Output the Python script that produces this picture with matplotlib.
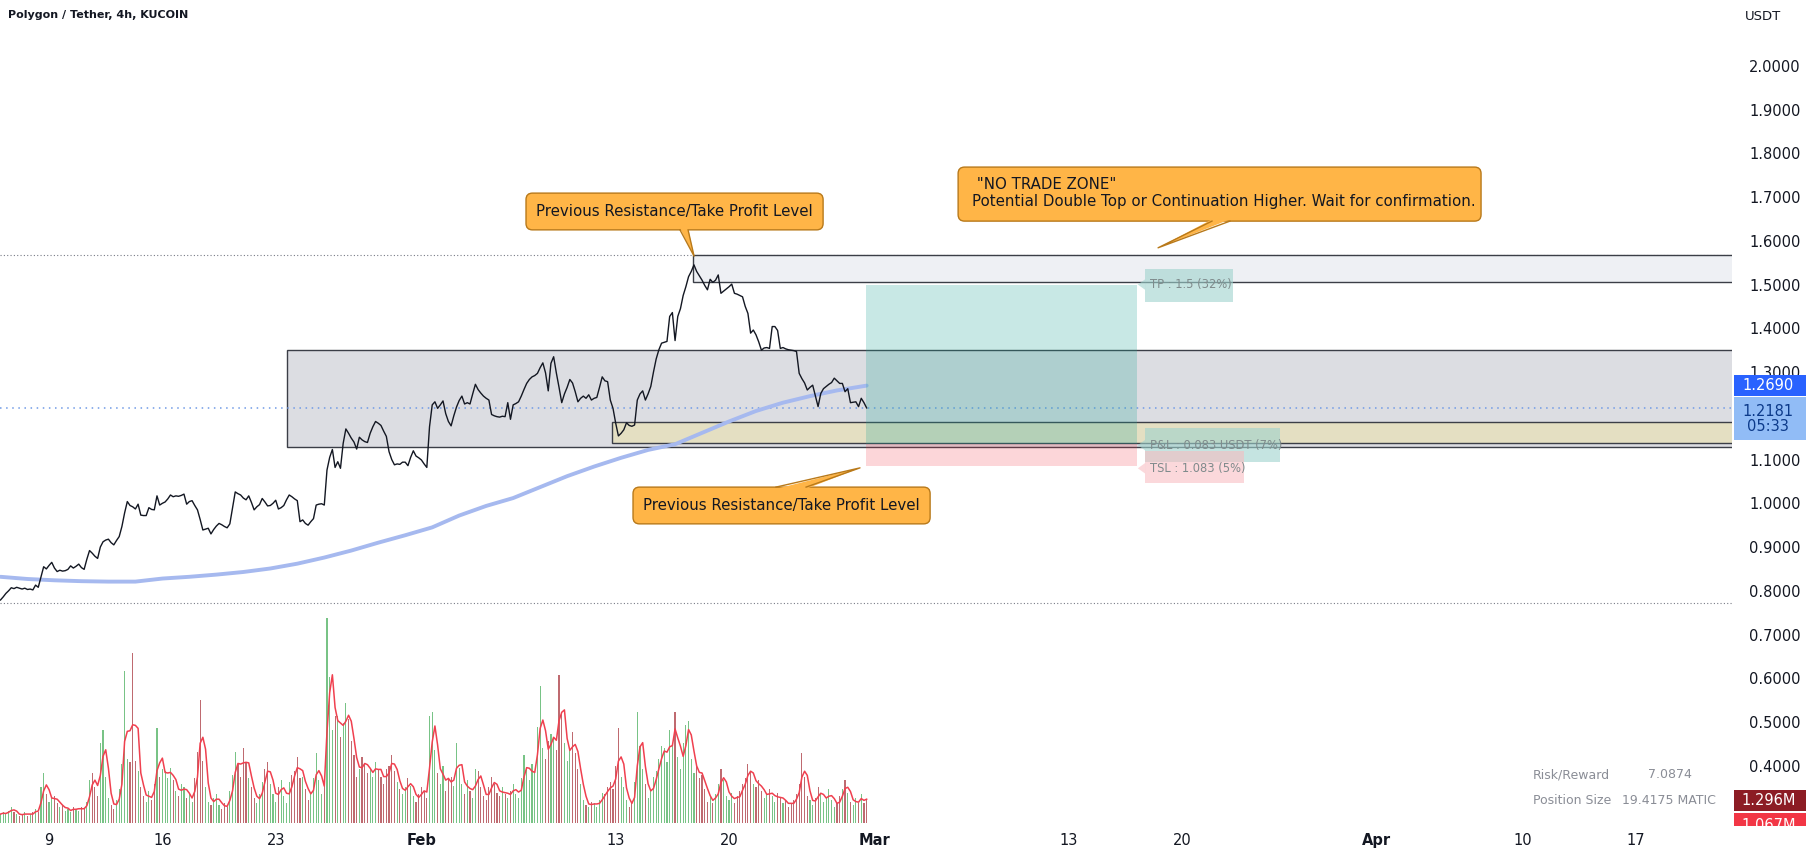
import numpy as np
import pandas as pd
import matplotlib
matplotlib.use("Agg")
import matplotlib.pyplot as plt
import matplotlib.dates as mdates
from matplotlib.patches import Rectangle, FancyBboxPatch, Polygon
from matplotlib.ticker import FuncFormatter

W, H = 1811, 860
plt.rcParams['font.family'] = ['DejaVu Sans']

# MATIC/USDT 4h closes, first bar 2023-01-06 00:00
close = [
    0.779, 0.786, 0.794, 0.800, 0.807, 0.805, 0.808, 0.806, 0.804, 0.806,
    0.803, 0.804, 0.802, 0.813, 0.808, 0.832, 0.855, 0.850, 0.858, 0.865,
    0.852, 0.844, 0.847, 0.845, 0.846, 0.849, 0.857, 0.852, 0.856, 0.861,
    0.853, 0.849, 0.872, 0.892, 0.886, 0.879, 0.874, 0.900, 0.912, 0.916,
    0.918, 0.910, 0.905, 0.915, 0.924, 0.947, 0.978, 1.004, 0.995, 0.992,
    0.987, 0.998, 0.973, 0.972, 0.972, 0.990, 0.986, 0.985, 1.017, 0.996,
    1.000, 1.003, 1.010, 1.019, 1.015, 1.017, 1.016, 1.018, 1.021, 0.998,
    1.004, 1.006, 0.995, 0.985, 0.963, 0.939, 0.941, 0.943, 0.930, 0.940,
    0.948, 0.954, 0.951, 0.947, 0.944, 0.953, 0.990, 1.026, 1.022, 1.019,
    1.012, 1.008, 1.017, 1.002, 0.985, 0.992, 0.997, 1.011, 1.003, 0.994,
    0.995, 1.000, 1.007, 0.987, 0.990, 0.995, 1.008, 1.019, 1.015, 1.010,
    1.006, 0.958, 0.962, 0.954, 0.950, 0.958, 0.965, 0.996, 0.998, 0.999,
    0.996, 1.076, 1.105, 1.123, 1.082, 1.095, 1.080, 1.137, 1.170, 1.160,
    1.149, 1.140, 1.124, 1.151, 1.145, 1.141, 1.139, 1.160, 1.175, 1.187,
    1.183, 1.178, 1.165, 1.153, 1.118, 1.100, 1.088, 1.090, 1.089, 1.094,
    1.094, 1.086, 1.105, 1.120, 1.108, 1.104, 1.099, 1.090, 1.082, 1.175,
    1.225, 1.232, 1.217, 1.225, 1.234, 1.205, 1.187, 1.177, 1.200, 1.220,
    1.235, 1.245, 1.227, 1.230, 1.227, 1.250, 1.272, 1.260, 1.252, 1.245,
    1.240, 1.236, 1.203, 1.200, 1.198, 1.197, 1.199, 1.198, 1.230, 1.192,
    1.225, 1.228, 1.232, 1.245, 1.260, 1.274, 1.283, 1.289, 1.292, 1.297,
    1.310, 1.321, 1.298, 1.257, 1.320, 1.335, 1.298, 1.265, 1.230, 1.250,
    1.265, 1.283, 1.275, 1.255, 1.232, 1.240, 1.245, 1.240, 1.248, 1.236,
    1.240, 1.242, 1.265, 1.289, 1.280, 1.278, 1.236, 1.217, 1.183, 1.154,
    1.160, 1.168, 1.184, 1.178, 1.176, 1.179, 1.236, 1.250, 1.257, 1.236,
    1.250, 1.267, 1.300, 1.330, 1.351, 1.366, 1.368, 1.370, 1.427, 1.436,
    1.372, 1.427, 1.445, 1.475, 1.495, 1.518, 1.530, 1.545, 1.530, 1.520,
    1.510, 1.498, 1.488, 1.512, 1.505, 1.510, 1.522, 1.480, 1.485, 1.490,
    1.495, 1.501, 1.480, 1.478, 1.475, 1.472, 1.450, 1.434, 1.389, 1.396,
    1.385, 1.369, 1.350, 1.355, 1.356, 1.354, 1.404, 1.404, 1.395, 1.354,
    1.356, 1.353, 1.351, 1.350, 1.349, 1.347, 1.297, 1.285, 1.275, 1.259,
    1.265, 1.270, 1.245, 1.221, 1.251, 1.262, 1.267, 1.272, 1.276, 1.286,
    1.280, 1.274, 1.274, 1.255, 1.262, 1.230, 1.231, 1.232, 1.221, 1.240,
    1.230, 1.218,
]

# volume per 4h bar, millions of MATIC
volume = [
    0.5, 0.6, 0.5, 0.7, 0.9, 0.6, 0.5, 0.4, 0.5, 0.6,
    0.4, 0.5, 0.6, 0.8, 0.6, 2.0, 2.8, 1.6, 1.2, 1.4,
    1.5, 1.1, 0.9, 1.0, 0.7, 0.8, 0.6, 0.9, 0.8, 0.7,
    0.9, 0.8, 1.2, 2.4, 2.8, 2.0, 1.5, 4.5, 5.2, 2.6,
    1.4, 1.0, 0.8, 1.3, 1.9, 3.3, 8.5, 3.6, 3.4, 9.5,
    3.5, 2.9, 2.0, 1.5, 1.2, 1.8, 1.3, 2.2, 5.3, 2.6,
    3.0, 2.9, 2.5, 3.1, 2.4, 1.8, 1.5, 2.2, 2.0, 1.4,
    1.6, 1.2, 2.5, 4.0, 6.9, 3.5, 2.0, 1.2, 1.0, 1.4,
    1.6, 1.0, 0.8, 1.1, 0.9, 1.8, 2.7, 4.0, 3.3, 2.6,
    4.2, 3.4, 2.5, 2.0, 1.4, 1.1, 1.6, 2.3, 3.0, 3.4,
    2.2, 1.6, 1.2, 2.0, 2.4, 1.5, 1.1, 2.3, 2.7, 2.9,
    3.7, 2.5, 2.6, 1.9, 1.3, 1.7, 2.5, 3.9, 2.4, 1.6,
    2.2, 11.5, 8.2, 5.2, 6.0, 6.0, 4.8, 5.6, 6.7, 5.8,
    4.6, 3.8, 2.6, 3.0, 3.7, 3.3, 2.8, 3.1, 2.6, 3.4,
    3.0, 2.6, 2.2, 3.0, 3.2, 3.8, 2.9, 2.3, 1.9, 1.6,
    2.0, 2.5, 2.1, 1.5, 1.2, 1.6, 2.0, 1.8, 1.4, 6.0,
    6.2, 4.1, 2.8, 2.2, 3.2, 1.8, 2.5, 2.6, 2.1, 4.5,
    3.1, 2.2, 1.6, 2.4, 1.8, 1.4, 3.0, 2.9, 2.0, 1.5,
    1.3, 2.0, 2.6, 2.2, 1.7, 1.5, 2.0, 1.6, 1.4, 1.8,
    2.2, 1.6, 1.4, 2.5, 3.8, 3.0, 2.4, 3.3, 2.8, 5.4,
    7.7, 4.2, 3.6, 4.6, 5.0, 4.8, 4.1, 8.3, 6.2, 4.5,
    3.5, 4.2, 5.1, 3.9, 3.0, 2.2, 1.3, 1.0, 0.9, 1.2,
    1.1, 0.9, 1.3, 1.7, 1.6, 2.0, 2.3, 1.9, 3.2, 5.3,
    2.6, 2.0, 1.3, 0.9, 1.1, 2.3, 6.2, 4.3, 3.0, 2.2,
    1.4, 1.8, 2.6, 2.9, 3.6, 4.3, 4.2, 3.4, 5.2, 4.4,
    6.2, 3.7, 3.0, 4.5, 5.5, 5.7, 3.6, 2.8, 3.2, 2.5,
    2.7, 1.9, 1.2, 1.5, 1.1, 1.6, 2.2, 3.0, 2.4, 1.5,
    1.3, 1.7, 1.1, 1.5, 1.8, 2.2, 2.5, 3.3, 2.9, 2.2,
    2.0, 2.4, 1.8, 1.4, 1.6, 1.9, 1.5, 1.2, 1.7, 1.4,
    1.1, 1.3, 0.9, 1.1, 1.3, 1.6, 2.2, 3.9, 2.6, 1.5,
    1.3, 1.0, 1.4, 2.0, 1.6, 1.2, 1.4, 1.9, 1.3, 0.9,
    1.1, 1.5, 1.9, 2.4, 1.7, 1.2, 1.0, 1.4, 1.1, 1.6,
    1.1, 1.3,
]

# long moving average, read every 10 bars
ma_bar = [0, 10, 20, 30, 40, 50, 60, 70, 80, 90, 100, 110, 120, 130, 140, 150, 160,
          170, 180, 190, 200, 210, 220, 230, 240, 250, 260, 270, 280, 290, 300, 310, 321]
ma_val = [0.832, 0.827, 0.824, 0.822, 0.821, 0.821, 0.828, 0.832, 0.837, 0.843, 0.851,
          0.862, 0.876, 0.892, 0.910, 0.927, 0.945, 0.972, 0.994, 1.012, 1.037, 1.062,
          1.084, 1.104, 1.122, 1.135, 1.161, 1.187, 1.211, 1.230, 1.245, 1.258, 1.269]

# levels
high_level, low_level, last_price, ma_last = 1.5675, 0.772, 1.2181, 1.2690
entry, take_profit, stop_loss = 1.1365, 1.5, 1.0852
vol_last, vol_ma_last = 1.296, 1.067
price_ticks = [0.4, 0.5, 0.6, 0.7, 0.8, 0.9, 1.0, 1.1, 1.2, 1.3, 1.4, 1.5, 1.6,
               1.7, 1.8, 1.9, 2.0]

x_ticks = ['2023-01-09', '2023-01-16', '2023-01-23', '2023-02-01', '2023-02-13', '2023-02-20',
           '2023-03-01', '2023-03-13', '2023-03-20', '2023-04-01', '2023-04-10', '2023-04-17']
x_labels = ['9', '16', '23', 'Feb', '13', '20', 'Mar', '13', '20', 'Apr', '10', '17']

times = pd.date_range('2023-01-06 00:00', periods=len(close), freq='4h')
tnum = mdates.date2num(times)
t0 = mdates.date2num(pd.Timestamp('2023-01-01'))


def T(day):
    return t0 + day


fig = plt.figure(figsize=(W / 100, H / 100), dpi=100)
ax = fig.add_axes([0, 34 / H, 1732 / W, 826 / H])
vax = ax.twinx()   # volume overlay
ax.set_xlim(T(4.97), T(111.95))
ax.set_ylim(0.2624, 2.1504)
for a in (ax, vax):
    for s in a.spines.values():
        s.set_visible(False)

ax.yaxis.tick_right()
ax.set_yticks(price_ticks)
ax.yaxis.set_major_formatter(FuncFormatter(lambda v, p: f'{v:.4f}'))
ax.tick_params(axis='y', which='both', left=False, right=False, labelleft=False,
               labelright=True, pad=9, labelsize=10.5, labelcolor='#131722')
ax.set_xticks(mdates.date2num(pd.to_datetime(x_ticks)))
ax.set_xticklabels(x_labels)
ax.tick_params(axis='x', length=0, pad=5, labelsize=10.5, labelcolor='#131722')
for lab in ax.get_xticklabels():
    if lab.get_text() in ('Feb', 'Mar', 'Apr'):
        lab.set_fontweight('bold')

# zones
right = T(130)
ax.add_patch(Rectangle((T(22.70), 1.128), right - T(22.70), 1.350 - 1.128,
                       fc='#dcdde2', ec='#3b3e47', lw=1, zorder=1))
ax.add_patch(Rectangle((T(42.77), 1.137), right - T(42.77), 1.185 - 1.137,
                       fc='#e4dfc2', ec='#3b3e47', lw=1, zorder=1.2))
ax.add_patch(Rectangle((T(47.78), 1.505), right - T(47.78), high_level - 1.505,
                       fc='#eef0f4', ec='#3b3e47', lw=1, zorder=1))

# dotted price lines
ax.axhline(high_level, color='#787b86', lw=0.8, ls=(0, (1, 2)), zorder=0.9)
ax.axhline(low_level, color='#787b86', lw=0.8, ls=(0, (1, 2)), zorder=0.9)
ax.axhline(last_price, color='#6f9ae6', lw=1.1, ls=(0, (1, 3)), zorder=1.5)

# moving average and price
ax.plot(tnum[ma_bar], ma_val, color='#a6b9ef', lw=2.8, zorder=2, solid_capstyle='round')
ax.plot(tnum, close, color='#131722', lw=1.0, zorder=3)

# long position tool
lx0, lx1 = T(58.46), T(75.20)
ax.add_patch(Rectangle((lx0, entry), lx1 - lx0, take_profit - entry,
                       fc='#26a69a', alpha=0.25, ec='none', zorder=2.5))
ax.add_patch(Rectangle((lx0, stop_loss), lx1 - lx0, entry - stop_loss,
                       fc='#f23645', alpha=0.2, ec='none', zorder=2.5))


def pos_label(x0, x1, y0, y1, yc, text, fc, alpha):
    ax.add_patch(Rectangle((T(x0), y0), T(x1) - T(x0), y1 - y0, fc=fc, alpha=alpha,
                           ec='none', zorder=5))
    ax.add_patch(Polygon([(T(x0), yc + 0.012), (T(x0 - 0.45), yc), (T(x0), yc - 0.012)],
                         closed=True, fc=fc, alpha=alpha, ec='none', zorder=5))
    ax.text(T(x0 + 0.3), yc, text, fontsize=8.3, color='#7f8b8c', va='center', ha='left', zorder=6)


pos_label(75.70, 81.13, 1.4598, 1.5353, take_profit, 'TP : 1.5 (32%)', '#9fd3cd', 0.6)
pos_label(75.70, 84.04, 1.0942, 1.1719, 1.133, 'P&L : 0.083 USDT (7%)', '#9fd3cd', 0.6)
pos_label(75.70, 81.81, 1.0462, 1.1193, 1.080, 'TSL : 1.083 (5%)', '#f9b9be', 0.55)

# callouts
asp = (1 / 437.5) / (1 / 16.19)
c_fc, c_ec = '#ffb547', '#b8791a'


def callout(x0, x1, y0, y1, base, tip):
    ax.add_patch(FancyBboxPatch((T(x0), y0), T(x1) - T(x0), y1 - y0,
                                boxstyle='round,pad=0,rounding_size=0.4', mutation_aspect=asp,
                                fc=c_fc, ec=c_ec, lw=1, zorder=7))
    bx0, bx1, by = base
    inner = by + (0.004 if tip[1] < by else -0.004)
    ax.add_patch(Polygon([(T(bx0), inner), (T(tip[0]), tip[1]), (T(bx1), inner)],
                         closed=True, fc=c_fc, ec='none', zorder=7.5))
    ax.plot([T(bx0), T(tip[0]), T(bx1)], [by, tip[1], by], color=c_ec, lw=1, zorder=7.6)


ctext = dict(fontsize=10.8, color='#131722', va='center', zorder=8)
callout(37.46, 55.81, 1.625, 1.709, (46.97, 47.47, 1.625), (47.84, 1.565))
ax.text(T(46.63), 1.667, 'Previous Resistance/Take Profit Level', ha='center', **ctext)
callout(64.15, 96.45, 1.645, 1.7685, (79.83, 80.94, 1.645), (76.50, 1.584))
ax.text(T(65.0), 1.709, ' "NO TRADE ZONE"\nPotential Double Top or Continuation Higher. Wait for confirmation.',
        ha='left', linespacing=1.2, **ctext)
callout(44.07, 62.42, 0.953, 1.037, (52.90, 54.76, 1.037), (58.09, 1.081))
ax.text(T(53.25), 0.995, 'Previous Resistance/Take Profit Level', ha='center', **ctext)

# volume overlay
vax.set_ylim(-3 * 0.056, 823 * 0.056)
vax.set_yticks([])
up = np.r_[True, np.diff(close) >= 0]
vcol = np.where(up, '#78c386', '#bf6a70')
vax.bar(tnum, volume, width=0.07, color=vcol, lw=0, zorder=1)
vma = pd.Series(volume).rolling(3, min_periods=1).mean()
vax.plot(tnum, vma, color='#f0404f', lw=1.1, zorder=2)

# right price scale labels
rax = fig.add_axes([1732 / W, 34 / H, 79 / W, 826 / H])
rax.set_xlim(0, 1)
rax.set_ylim(ax.get_ylim())
rax.axis('off')


def scale_label(y, h, text, fc, tc):
    rax.add_patch(Rectangle((0.02, y - h / 2), 0.92, h, fc=fc, ec='none', zorder=5))
    t = rax.text(0.46, y, text, ha='center', va='center', fontsize=10.5, color=tc,
                 linespacing=1.0, zorder=6)
    t.set_clip_on(True)
    t.set_clip_box(rax.bbox)


scale_label(ma_last, 0.048, f'{ma_last:.4f}', '#2962ff', 'white')
scale_label(1.193, 0.098, f'{last_price:.4f}\n05:33', '#91bcf6', '#0c3a8a')
scale_label(0.321, 0.048, f'{vol_last:.3f}M', '#8c1c24', 'white')
scale_label(0.2624, 0.058, f'{vol_ma_last:.3f}M', '#f23645', 'white')

fig.text(1745 / W, 1 - 16 / H, 'USDT', fontsize=9.5, color='#131722', va='center', ha='left')
fig.text(8 / W, 1 - 15 / H, 'Polygon / Tether, 4h, KUCOIN', fontsize=8, fontweight='bold',
         color='#131722', va='center', ha='left')

info = dict(fontsize=9, color='#8a8d96', va='center', ha='left')
fig.text(1533 / W, 1 - 775 / H, 'Risk/Reward', **info)
fig.text(1648 / W, 1 - 775 / H, '7.0874', **info)
fig.text(1533 / W, 1 - 800 / H, 'Position Size', **info)
fig.text(1622 / W, 1 - 800 / H, '19.4175 MATIC', **info)

fig.savefig('out.png', dpi=100, facecolor='white')
